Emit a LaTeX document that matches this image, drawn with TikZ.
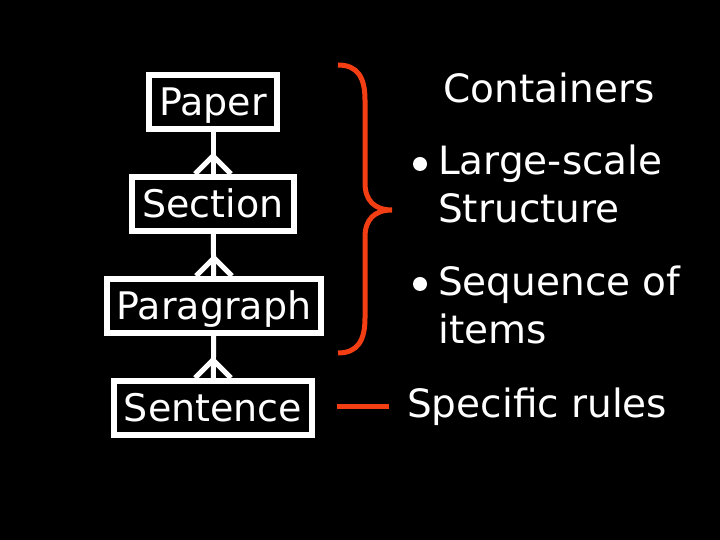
\documentclass[tikz,border=0pt]{standalone}
\usepackage{fontspec}
\setmainfont{DejaVu Sans}
\usetikzlibrary{calc}

\definecolor{accent}{RGB}{242,62,18}

\tikzset{
	unit/.style={draw=white,line width=6pt,text=white,inner xsep=10pt,minimum height=54pt,text height=27pt,text depth=0pt,font=\fontsize{38}{46}\selectfont},
	link/.style={draw=white,line width=5pt},
	note/.style={text=white,inner sep=0pt,font=\fontsize{39}{48}\selectfont},
	dot/.style={circle,fill=white,inner sep=0pt,minimum size=14pt}
}

\begin{document}
\begin{tikzpicture}[x=1pt,y=1pt]
	\useasboundingbox (0,0) rectangle (720,540);
	\fill[black] (0,0) rectangle (720,540);

	\node[unit](paper) at (213,438) {Paper};
	\node[unit](section) at (213,336) {Section};
	\node[unit](paragraph) at (214,234) {Paragraph};
	\node[unit](sentence) at (213,132) {Sentence};

	\draw[link] (paper) -- (section);
	\draw[link] (section) -- (paragraph);
	\draw[link] (paragraph) -- (sentence);
	\draw[link] ($(section.north)+(-18,0)$) -- ($(section.north)+(0,18)$) -- ($(section.north)+(18,0)$);
	\draw[link] ($(paragraph.north)+(-18,0)$) -- ($(paragraph.north)+(0,18)$) -- ($(paragraph.north)+(18,0)$);
	\draw[link] ($(sentence.north)+(-18,0)$) -- ($(sentence.north)+(0,18)$) -- ($(sentence.north)+(18,0)$);

	% brace
	\draw[accent,line width=5pt] (338,475) .. controls (358,475) and (365,462) .. (365,440) -- (365,357)
		.. controls (365,340) and (374,330) .. (392,330)
		.. controls (374,330) and (365,320) .. (365,303) -- (365,222)
		.. controls (365,200) and (358,187) .. (338,187);
	\coordinate (dash) at (337,133);
	\coordinate (dashend) at (389,133);
	\draw[accent,line width=5pt] (dash) -- (dashend);

	\node[note,anchor=base](containers) at (549,437) {Containers};
	\node[dot](dot1) at (420,376) {};
	\node[note,anchor=base west](large) at (438,365) {Large-scale};
	\node[note,anchor=base west](structure) at (438,317) {Structure};
	\node[dot](dot2) at (420,256) {};
	\node[note,anchor=base west](sequence) at (438,244) {Sequence of};
	\node[note,anchor=base west](items) at (438,196) {items};
	\node[note,anchor=base west](rules) at (407,122) {Specific rules};
\end{tikzpicture}
\end{document}
